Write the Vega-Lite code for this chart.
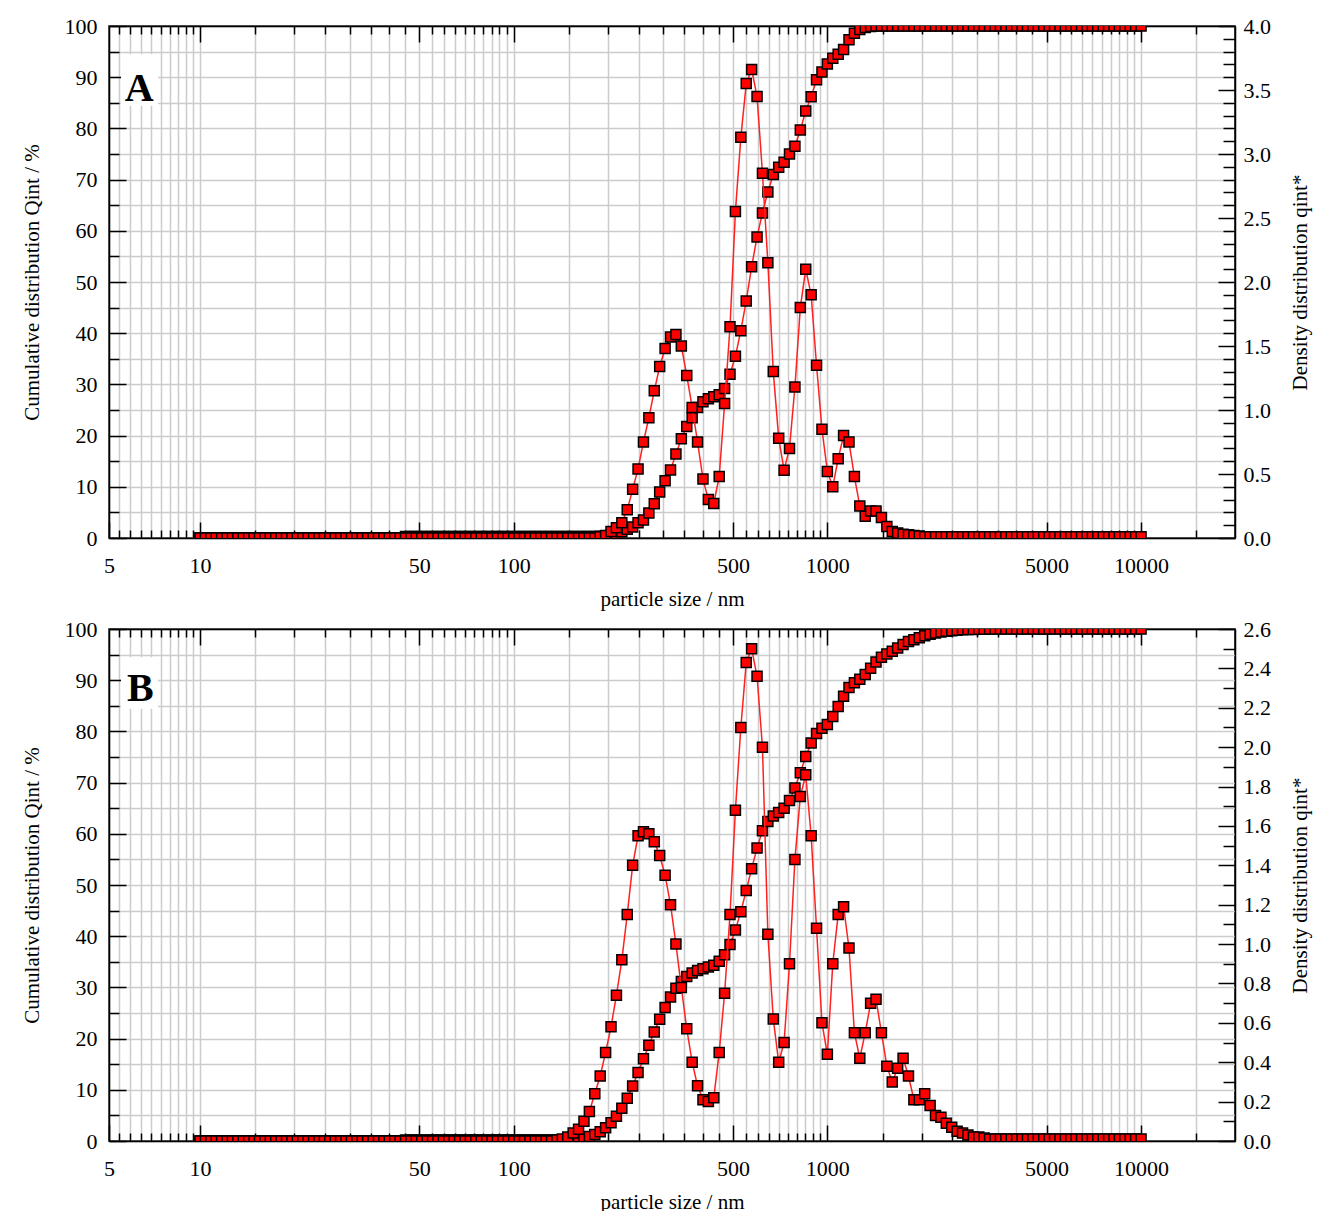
{
"$schema": "https://vega.github.io/schema/vega-lite/v6.json",
"background": "white",
"padding": {"left": 20, "top": 14, "right": 4, "bottom": 2},
"spacing": 7,
"config": {
  "font": "Liberation Serif",
  "view": {"stroke": "black", "strokeWidth": 1.5},
  "axis": {"labelFont": "Liberation Serif", "titleFont": "Liberation Serif", "labelFontSize": 22, "titleFontSize": 21, "titleFontWeight": "normal", "labelColor": "black", "titleColor": "black", "domainColor": "black", "domainWidth": 1.5, "tickColor": "black", "tickWidth": 1.5, "gridColor": "#cccccc", "gridWidth": 1.5, "labelFlush": false, "labelOverlap": false}
},
"datasets": {
"A": [
{"x":10,"c":0,"d":0},{"x":10.405,"c":0,"d":0},{"x":10.826,"c":0,"d":0},{"x":11.265,"c":0,"d":0},{"x":11.721,"c":0,"d":0},{"x":12.196,"c":0,"d":0},{"x":12.689,"c":0,"d":0},{"x":13.203,"c":0,"d":0},{"x":13.738,"c":0,"d":0},{"x":14.294,"c":0,"d":0},
{"x":14.873,"c":0,"d":0},{"x":15.475,"c":0,"d":0},{"x":16.102,"c":0,"d":0},{"x":16.754,"c":0,"d":0},{"x":17.432,"c":0,"d":0},{"x":18.138,"c":0,"d":0},{"x":18.873,"c":0,"d":0},{"x":19.637,"c":0,"d":0},{"x":20.432,"c":0,"d":0},{"x":21.26,"c":0,"d":0},
{"x":22.121,"c":0,"d":0},{"x":23.016,"c":0,"d":0},{"x":23.948,"c":0,"d":0},{"x":24.918,"c":0,"d":0},{"x":25.927,"c":0,"d":0},{"x":26.977,"c":0,"d":0},{"x":28.069,"c":0,"d":0},{"x":29.206,"c":0,"d":0},{"x":30.389,"c":0,"d":0},{"x":31.623,"c":0,"d":0},
{"x":32.904,"c":0,"d":0},{"x":34.236,"c":0,"d":0},{"x":35.623,"c":0,"d":0},{"x":37.065,"c":0,"d":0},{"x":38.566,"c":0,"d":0},{"x":40.128,"c":0,"d":0},{"x":41.753,"c":0,"d":0},{"x":43.444,"c":0,"d":0},{"x":45.204,"c":0.3,"d":0},{"x":47.034,"c":0.3,"d":0},
{"x":48.939,"c":0.3,"d":0},{"x":50.921,"c":0.3,"d":0},{"x":52.983,"c":0.3,"d":0},{"x":55.129,"c":0.3,"d":0},{"x":57.361,"c":0.3,"d":0},{"x":59.684,"c":0.3,"d":0},{"x":62.101,"c":0.3,"d":0},{"x":64.616,"c":0.3,"d":0},{"x":67.233,"c":0.3,"d":0},{"x":69.956,"c":0.3,"d":0},
{"x":72.789,"c":0.3,"d":0},{"x":75.737,"c":0.3,"d":0},{"x":78.804,"c":0.3,"d":0},{"x":81.995,"c":0.3,"d":0},{"x":85.316,"c":0.3,"d":0},{"x":88.771,"c":0.3,"d":0},{"x":92.366,"c":0.3,"d":0},{"x":96.106,"c":0.3,"d":0},{"x":100,"c":0.3,"d":0},{"x":104.05,"c":0.3,"d":0},
{"x":108.26,"c":0.3,"d":0},{"x":112.65,"c":0.3,"d":0},{"x":117.21,"c":0.3,"d":0},{"x":121.96,"c":0.3,"d":0},{"x":126.89,"c":0.3,"d":0},{"x":132.03,"c":0.3,"d":0},{"x":137.38,"c":0.3,"d":0},{"x":142.94,"c":0.3,"d":0},{"x":148.73,"c":0.3,"d":0},{"x":154.75,"c":0.3,"d":0},
{"x":161.02,"c":0.3,"d":0},{"x":167.54,"c":0.3,"d":0},{"x":174.32,"c":0.3,"d":0},{"x":181.38,"c":0.3,"d":0},{"x":188.73,"c":0.35,"d":0.01},{"x":196.37,"c":0.45,"d":0.02},{"x":204.32,"c":0.6,"d":0.05},{"x":212.6,"c":0.8,"d":0.08},{"x":221.21,"c":1.2,"d":0.12},{"x":230.16,"c":1.7,"d":0.22},
{"x":239.48,"c":2.15,"d":0.38},{"x":249.18,"c":3.0,"d":0.54},{"x":259.27,"c":3.5,"d":0.75},{"x":269.77,"c":4.9,"d":0.94},{"x":280.69,"c":6.7,"d":1.15},{"x":292.06,"c":9.0,"d":1.34},{"x":303.89,"c":11.2,"d":1.48},{"x":316.23,"c":13.3,"d":1.57},{"x":329.04,"c":16.4,"d":1.59},{"x":342.36,"c":19.4,"d":1.5},
{"x":356.23,"c":21.8,"d":1.27},{"x":370.65,"c":23.5,"d":1.02},{"x":385.66,"c":25.5,"d":0.75},{"x":401.28,"c":26.6,"d":0.46},{"x":417.53,"c":27.2,"d":0.3},{"x":434.44,"c":27.6,"d":0.27},{"x":452.04,"c":28.0,"d":0.48},{"x":470.34,"c":29.2,"d":1.05},{"x":489.39,"c":32.0,"d":1.65},{"x":509.21,"c":35.5,"d":2.55},
{"x":529.83,"c":40.5,"d":3.13},{"x":551.29,"c":46.3,"d":3.55},{"x":573.61,"c":53.0,"d":3.66},{"x":596.84,"c":58.8,"d":3.45},{"x":621.01,"c":63.5,"d":2.85},{"x":646.16,"c":67.6,"d":2.15},{"x":672.33,"c":71.0,"d":1.3},{"x":699.56,"c":72.4,"d":0.78},{"x":727.89,"c":73.4,"d":0.53},{"x":757.37,"c":75.0,"d":0.7},
{"x":788.04,"c":76.5,"d":1.18},{"x":819.95,"c":79.7,"d":1.8},{"x":853.16,"c":83.4,"d":2.1},{"x":887.71,"c":86.2,"d":1.9},{"x":923.66,"c":89.5,"d":1.35},{"x":961.06,"c":91.0,"d":0.85},{"x":1000,"c":92.6,"d":0.52},{"x":1040.5,"c":93.7,"d":0.4},{"x":1082.6,"c":94.5,"d":0.62},{"x":1126.5,"c":95.4,"d":0.8},
{"x":1172.1,"c":97.3,"d":0.75},{"x":1219.6,"c":98.6,"d":0.48},{"x":1268.9,"c":99.3,"d":0.25},{"x":1320.3,"c":99.7,"d":0.17},{"x":1373.8,"c":99.9,"d":0.21},{"x":1429.4,"c":100,"d":0.21},{"x":1487.3,"c":100,"d":0.16},{"x":1547.5,"c":100,"d":0.09},{"x":1610.2,"c":100,"d":0.05},{"x":1675.4,"c":100,"d":0.04},
{"x":1743.2,"c":100,"d":0.03},{"x":1813.8,"c":100,"d":0.025},{"x":1887.3,"c":100,"d":0.02},{"x":1963.7,"c":100,"d":0.015},{"x":2043.2,"c":100,"d":0.01},{"x":2126,"c":100,"d":0.01},{"x":2212.1,"c":100,"d":0.01},{"x":2301.6,"c":100,"d":0.01},{"x":2394.8,"c":100,"d":0.01},{"x":2491.8,"c":100,"d":0.01},
{"x":2592.7,"c":100,"d":0.01},{"x":2697.7,"c":100,"d":0.01},{"x":2806.9,"c":100,"d":0.01},{"x":2920.6,"c":100,"d":0.01},{"x":3038.9,"c":100,"d":0.01},{"x":3162.3,"c":100,"d":0.01},{"x":3290.4,"c":100,"d":0.01},{"x":3423.6,"c":100,"d":0.01},{"x":3562.3,"c":100,"d":0.01},{"x":3706.5,"c":100,"d":0.01},
{"x":3856.6,"c":100,"d":0.01},{"x":4012.8,"c":100,"d":0.01},{"x":4175.3,"c":100,"d":0.01},{"x":4344.4,"c":100,"d":0.01},{"x":4520.4,"c":100,"d":0.01},{"x":4703.4,"c":100,"d":0.01},{"x":4893.9,"c":100,"d":0.01},{"x":5092.1,"c":100,"d":0.01},{"x":5298.3,"c":100,"d":0.01},{"x":5512.9,"c":100,"d":0.01},
{"x":5736.1,"c":100,"d":0.01},{"x":5968.4,"c":100,"d":0.01},{"x":6210.1,"c":100,"d":0.01},{"x":6461.6,"c":100,"d":0.01},{"x":6723.3,"c":100,"d":0.01},{"x":6995.6,"c":100,"d":0.01},{"x":7278.9,"c":100,"d":0.01},{"x":7573.7,"c":100,"d":0.01},{"x":7880.4,"c":100,"d":0.01},{"x":8199.5,"c":100,"d":0.01},
{"x":8531.6,"c":100,"d":0.01},{"x":8877.1,"c":100,"d":0.01},{"x":9236.6,"c":100,"d":0.01},{"x":9610.6,"c":100,"d":0.01},{"x":10000,"c":100,"d":0.01}
],
"B": [
{"x":10,"c":0,"d":0},{"x":10.405,"c":0,"d":0},{"x":10.826,"c":0,"d":0},{"x":11.265,"c":0,"d":0},{"x":11.721,"c":0,"d":0},{"x":12.196,"c":0,"d":0},{"x":12.689,"c":0,"d":0},{"x":13.203,"c":0,"d":0},{"x":13.738,"c":0,"d":0},{"x":14.294,"c":0,"d":0},
{"x":14.873,"c":0,"d":0},{"x":15.475,"c":0,"d":0},{"x":16.102,"c":0,"d":0},{"x":16.754,"c":0,"d":0},{"x":17.432,"c":0,"d":0},{"x":18.138,"c":0,"d":0},{"x":18.873,"c":0,"d":0},{"x":19.637,"c":0,"d":0},{"x":20.432,"c":0,"d":0},{"x":21.26,"c":0,"d":0},
{"x":22.121,"c":0,"d":0},{"x":23.016,"c":0,"d":0},{"x":23.948,"c":0,"d":0},{"x":24.918,"c":0,"d":0},{"x":25.927,"c":0,"d":0},{"x":26.977,"c":0,"d":0},{"x":28.069,"c":0,"d":0},{"x":29.206,"c":0,"d":0},{"x":30.389,"c":0,"d":0},{"x":31.623,"c":0,"d":0},
{"x":32.904,"c":0,"d":0},{"x":34.236,"c":0,"d":0},{"x":35.623,"c":0,"d":0},{"x":37.065,"c":0,"d":0},{"x":38.566,"c":0,"d":0},{"x":40.128,"c":0,"d":0},{"x":41.753,"c":0,"d":0},{"x":43.444,"c":0,"d":0},{"x":45.204,"c":0.2,"d":0},{"x":47.034,"c":0.2,"d":0},
{"x":48.939,"c":0.2,"d":0},{"x":50.921,"c":0.2,"d":0},{"x":52.983,"c":0.2,"d":0},{"x":55.129,"c":0.2,"d":0},{"x":57.361,"c":0.2,"d":0},{"x":59.684,"c":0.2,"d":0},{"x":62.101,"c":0.2,"d":0},{"x":64.616,"c":0.2,"d":0},{"x":67.233,"c":0.2,"d":0},{"x":69.956,"c":0.2,"d":0},
{"x":72.789,"c":0.2,"d":0},{"x":75.737,"c":0.2,"d":0},{"x":78.804,"c":0.2,"d":0},{"x":81.995,"c":0.2,"d":0},{"x":85.316,"c":0.2,"d":0},{"x":88.771,"c":0.2,"d":0},{"x":92.366,"c":0.2,"d":0},{"x":96.106,"c":0.2,"d":0},{"x":100,"c":0.2,"d":0},{"x":104.05,"c":0.2,"d":0},
{"x":108.26,"c":0.2,"d":0},{"x":112.65,"c":0.2,"d":0},{"x":117.21,"c":0.2,"d":0},{"x":121.96,"c":0.2,"d":0},{"x":126.89,"c":0.2,"d":0},{"x":132.03,"c":0.2,"d":0},{"x":137.38,"c":0.21,"d":0.005},{"x":142.94,"c":0.23,"d":0.01},{"x":148.73,"c":0.26,"d":0.02},{"x":154.75,"c":0.33,"d":0.04},
{"x":161.02,"c":0.43,"d":0.06},{"x":167.54,"c":0.6,"d":0.1},{"x":174.32,"c":0.86,"d":0.15},{"x":181.38,"c":1.26,"d":0.24},{"x":188.73,"c":1.83,"d":0.33},{"x":196.37,"c":2.59,"d":0.45},{"x":204.32,"c":3.58,"d":0.58},{"x":212.6,"c":4.84,"d":0.74},{"x":221.21,"c":6.4,"d":0.92},{"x":230.16,"c":8.37,"d":1.15},
{"x":239.48,"c":10.75,"d":1.4},{"x":249.18,"c":13.39,"d":1.55},{"x":259.27,"c":16.06,"d":1.57},{"x":269.77,"c":18.72,"d":1.56},{"x":280.69,"c":21.31,"d":1.52},{"x":292.06,"c":23.78,"d":1.45},{"x":303.89,"c":26.08,"d":1.35},{"x":316.23,"c":28.12,"d":1.2},{"x":329.04,"c":29.82,"d":1.0},{"x":342.36,"c":31.15,"d":0.78},
{"x":356.23,"c":32.12,"d":0.57},{"x":370.65,"c":32.8,"d":0.4},{"x":385.66,"c":33.28,"d":0.28},{"x":401.28,"c":33.64,"d":0.21},{"x":417.53,"c":33.98,"d":0.2},{"x":434.44,"c":34.35,"d":0.22},{"x":452.04,"c":35.12,"d":0.45},{"x":470.34,"c":36.4,"d":0.75},{"x":489.39,"c":38.36,"d":1.15},{"x":509.21,"c":41.22,"d":1.68},
{"x":529.83,"c":44.79,"d":2.1},{"x":551.29,"c":48.93,"d":2.43},{"x":573.61,"c":53.19,"d":2.5},{"x":596.84,"c":57.21,"d":2.36},{"x":621.01,"c":60.62,"d":2.0},{"x":646.16,"c":62.4,"d":1.05},{"x":672.33,"c":63.46,"d":0.62},{"x":699.56,"c":64.14,"d":0.4},{"x":727.89,"c":64.99,"d":0.5},{"x":757.37,"c":66.52,"d":0.9},
{"x":788.04,"c":68.96,"d":1.43},{"x":819.95,"c":71.94,"d":1.75},{"x":853.16,"c":75.11,"d":1.86},{"x":887.71,"c":77.75,"d":1.55},{"x":923.66,"c":79.59,"d":1.08},{"x":961.06,"c":80.61,"d":0.6},{"x":1000,"c":81.36,"d":0.44},{"x":1040.5,"c":82.89,"d":0.9},{"x":1082.6,"c":84.85,"d":1.15},{"x":1126.5,"c":86.88,"d":1.19},
{"x":1172.1,"c":88.55,"d":0.98},{"x":1219.6,"c":89.48,"d":0.55},{"x":1268.9,"c":90.2,"d":0.42},{"x":1320.3,"c":91.13,"d":0.55},{"x":1373.8,"c":92.33,"d":0.7},{"x":1429.4,"c":93.55,"d":0.72},{"x":1487.3,"c":94.49,"d":0.55},{"x":1547.5,"c":95.14,"d":0.38},{"x":1610.2,"c":95.65,"d":0.3},{"x":1675.4,"c":96.28,"d":0.37},
{"x":1743.2,"c":96.99,"d":0.42},{"x":1813.8,"c":97.56,"d":0.33},{"x":1887.3,"c":97.91,"d":0.21},{"x":1963.7,"c":98.27,"d":0.21},{"x":2043.2,"c":98.68,"d":0.24},{"x":2126,"c":98.98,"d":0.18},{"x":2212.1,"c":99.2,"d":0.13},{"x":2301.6,"c":99.41,"d":0.12},{"x":2394.8,"c":99.56,"d":0.09},{"x":2491.8,"c":99.68,"d":0.07},
{"x":2592.7,"c":99.76,"d":0.05},{"x":2697.7,"c":99.83,"d":0.04},{"x":2806.9,"c":99.88,"d":0.03},{"x":2920.6,"c":99.92,"d":0.02},{"x":3038.9,"c":99.95,"d":0.02},{"x":3162.3,"c":99.97,"d":0.015},{"x":3290.4,"c":100,"d":0.01},{"x":3423.6,"c":100,"d":0.01},{"x":3562.3,"c":100,"d":0.01},{"x":3706.5,"c":100,"d":0.01},
{"x":3856.6,"c":100,"d":0.01},{"x":4012.8,"c":100,"d":0.01},{"x":4175.3,"c":100,"d":0.01},{"x":4344.4,"c":100,"d":0.01},{"x":4520.4,"c":100,"d":0.01},{"x":4703.4,"c":100,"d":0.01},{"x":4893.9,"c":100,"d":0.01},{"x":5092.1,"c":100,"d":0.01},{"x":5298.3,"c":100,"d":0.01},{"x":5512.9,"c":100,"d":0.01},
{"x":5736.1,"c":100,"d":0.01},{"x":5968.4,"c":100,"d":0.01},{"x":6210.1,"c":100,"d":0.01},{"x":6461.6,"c":100,"d":0.01},{"x":6723.3,"c":100,"d":0.01},{"x":6995.6,"c":100,"d":0.01},{"x":7278.9,"c":100,"d":0.01},{"x":7573.7,"c":100,"d":0.01},{"x":7880.4,"c":100,"d":0.01},{"x":8199.5,"c":100,"d":0.01},
{"x":8531.6,"c":100,"d":0.01},{"x":8877.1,"c":100,"d":0.01},{"x":9236.6,"c":100,"d":0.01},{"x":9610.6,"c":100,"d":0.01},{"x":10000,"c":100,"d":0.01}
]
},
"vconcat": [
{
  "width": 1126, "height": 512,
  "data": {"name": "A"},
  "layer": [
    {
      "encoding": {
        "x": {"field": "x", "type": "quantitative", "scale": {"type": "log", "domain": [5.128, 19930], "nice": false},
          "axis": {"orient": "bottom", "title": "particle size / nm", "titlePadding": 4, "grid": true, "format": "d",
            "values": [5.128,5.5,6,6.5,7,7.5,8,8.5,9,9.5,10,15,20,25,30,35,40,45,50,55,60,65,70,75,80,85,90,95,100,150,200,250,300,350,400,450,500,550,600,650,700,750,800,850,900,950,1000,1500,2000,2500,3000,3500,4000,4500,5000,5500,6000,6500,7000,7500,8000,8500,9000,9500,10000,15000],
            "labelExpr": "(datum.value < 5.2 || indexof([10,50,100,500,1000,5000,10000], datum.value) >= 0) ? format(datum.value, 'd') : ''",
            "tickSize": {"condition": {"test": "datum.value < 5.2 || indexof([10,50,100,500,1000,5000,10000], datum.value) >= 0", "value": -16}, "value": -8},
            "labelPadding": 33}},
        "y": {"field": "c", "type": "quantitative", "scale": {"domain": [0, 100], "nice": false},
          "axis": {"orient": "left", "title": "Cumulative distribution Qint / %", "titlePadding": 22, "grid": true, "format": "d",
            "values": [0,5,10,15,20,25,30,35,40,45,50,55,60,65,70,75,80,85,90,95,100],
            "labelExpr": "datum.value % 10 == 0 ? datum.label : ''",
            "tickSize": {"condition": {"test": "datum.value % 10 == 0", "value": -17}, "value": -10},
            "labelPadding": 29}}
      },
      "layer": [
        {"mark": {"type": "line", "color": "#ff2020", "strokeWidth": 1.5, "clip": true}},
        {"mark": {"type": "point", "shape": "square", "filled": true, "fill": "#ff0000", "stroke": "black", "strokeWidth": 1.5, "size": 100, "opacity": 1, "clip": true}}
      ]
    },
    {
      "encoding": {
        "x": {"field": "x", "type": "quantitative", "scale": {"type": "log", "domain": [5.128, 19930], "nice": false},
          "axis": {"orient": "top", "title": null, "grid": false, "labels": false,
            "values": [5.5,6,6.5,7,7.5,8,8.5,9,9.5,10,15,20,25,30,35,40,45,50,55,60,65,70,75,80,85,90,95,100,150,200,250,300,350,400,450,500,550,600,650,700,750,800,850,900,950,1000,1500,2000,2500,3000,3500,4000,4500,5000,5500,6000,6500,7000,7500,8000,8500,9000,9500,10000,15000],
            "tickSize": {"condition": {"test": "indexof([10,50,100,500,1000,5000,10000], datum.value) >= 0", "value": -16}, "value": -8}}},
        "y": {"field": "d", "type": "quantitative", "scale": {"domain": [0, 4], "nice": false},
          "axis": {"orient": "right", "title": "Density distribution qint*", "titleAngle": -90, "titlePadding": 40, "grid": false,
            "values": [0,0.1,0.2,0.3,0.4,0.5,0.6,0.7,0.8,0.9,1,1.1,1.2,1.3,1.4,1.5,1.6,1.7,1.8,1.9,2,2.1,2.2,2.3,2.4,2.5,2.6,2.7,2.8,2.9,3,3.1,3.2,3.3,3.4,3.5,3.6,3.7,3.8,3.9,4],
            "labelExpr": "abs(datum.value*2 - round(datum.value*2)) < 0.001 ? format(datum.value, '.1f') : ''",
            "tickSize": {"condition": {"test": "abs(datum.value*2 - round(datum.value*2)) < 0.001", "value": -17}, "value": -12},
            "labelPadding": 25}}
      },
      "layer": [
        {"mark": {"type": "line", "color": "#ff2020", "strokeWidth": 1.5, "clip": true}},
        {"mark": {"type": "point", "shape": "square", "filled": true, "fill": "#ff0000", "stroke": "black", "strokeWidth": 1.5, "size": 100, "opacity": 1, "clip": true}}
      ]
    },
    {
      "data": {"values": [{"panel": "A"}]},
      "encoding": {
        "x": {"datum": 5.6, "type": "quantitative", "scale": {"type": "log", "domain": [5.128, 19930], "nice": false}, "axis": null},
        "y": {"datum": 84.4, "type": "quantitative", "scale": {"domain": [0, 100], "nice": false}, "axis": null}
      },
      "layer": [
        {"mark": {"type": "rect", "fill": "white"}, "encoding": {"x2": {"datum": 7.35}, "y2": {"datum": 94.5}}},
        {"mark": {"type": "text", "font": "Liberation Serif", "fontSize": 40, "fontWeight": "bold", "align": "center", "baseline": "middle", "color": "black"},
         "encoding": {"x": {"datum": 6.4, "type": "quantitative"}, "y": {"datum": 87.7, "type": "quantitative"}, "text": {"field": "panel"}}}
      ]
    }
  ],
  "resolve": {"scale": {"y": "independent"}, "axis": {"x": "independent"}}
},
{
  "width": 1126, "height": 512,
  "data": {"name": "B"},
  "layer": [
    {
      "encoding": {
        "x": {"field": "x", "type": "quantitative", "scale": {"type": "log", "domain": [5.128, 19930], "nice": false},
          "axis": {"orient": "bottom", "title": "particle size / nm", "titlePadding": 4, "grid": true, "format": "d",
            "values": [5.128,5.5,6,6.5,7,7.5,8,8.5,9,9.5,10,15,20,25,30,35,40,45,50,55,60,65,70,75,80,85,90,95,100,150,200,250,300,350,400,450,500,550,600,650,700,750,800,850,900,950,1000,1500,2000,2500,3000,3500,4000,4500,5000,5500,6000,6500,7000,7500,8000,8500,9000,9500,10000,15000],
            "labelExpr": "(datum.value < 5.2 || indexof([10,50,100,500,1000,5000,10000], datum.value) >= 0) ? format(datum.value, 'd') : ''",
            "tickSize": {"condition": {"test": "datum.value < 5.2 || indexof([10,50,100,500,1000,5000,10000], datum.value) >= 0", "value": -16}, "value": -8},
            "labelPadding": 33}},
        "y": {"field": "c", "type": "quantitative", "scale": {"domain": [0, 100], "nice": false},
          "axis": {"orient": "left", "title": "Cumulative distribution Qint / %", "titlePadding": 22, "grid": true, "format": "d",
            "values": [0,5,10,15,20,25,30,35,40,45,50,55,60,65,70,75,80,85,90,95,100],
            "labelExpr": "datum.value % 10 == 0 ? datum.label : ''",
            "tickSize": {"condition": {"test": "datum.value % 10 == 0", "value": -17}, "value": -10},
            "labelPadding": 29}}
      },
      "layer": [
        {"mark": {"type": "line", "color": "#ff2020", "strokeWidth": 1.5, "clip": true}},
        {"mark": {"type": "point", "shape": "square", "filled": true, "fill": "#ff0000", "stroke": "black", "strokeWidth": 1.5, "size": 100, "opacity": 1, "clip": true}}
      ]
    },
    {
      "encoding": {
        "x": {"field": "x", "type": "quantitative", "scale": {"type": "log", "domain": [5.128, 19930], "nice": false},
          "axis": {"orient": "top", "title": null, "grid": false, "labels": false,
            "values": [5.5,6,6.5,7,7.5,8,8.5,9,9.5,10,15,20,25,30,35,40,45,50,55,60,65,70,75,80,85,90,95,100,150,200,250,300,350,400,450,500,550,600,650,700,750,800,850,900,950,1000,1500,2000,2500,3000,3500,4000,4500,5000,5500,6000,6500,7000,7500,8000,8500,9000,9500,10000,15000],
            "tickSize": {"condition": {"test": "indexof([10,50,100,500,1000,5000,10000], datum.value) >= 0", "value": -16}, "value": -8}}},
        "y": {"field": "d", "type": "quantitative", "scale": {"domain": [0, 2.6], "nice": false},
          "axis": {"orient": "right", "title": "Density distribution qint*", "titleAngle": -90, "titlePadding": 40, "grid": false,
            "values": [0,0.1,0.2,0.3,0.4,0.5,0.6,0.7,0.8,0.9,1,1.1,1.2,1.3,1.4,1.5,1.6,1.7,1.8,1.9,2,2.1,2.2,2.3,2.4,2.5,2.6],
            "labelExpr": "abs(datum.value*5 - round(datum.value*5)) < 0.001 ? format(datum.value, '.1f') : ''",
            "tickSize": {"condition": {"test": "abs(datum.value*5 - round(datum.value*5)) < 0.001", "value": -17}, "value": -12},
            "labelPadding": 25}}
      },
      "layer": [
        {"mark": {"type": "line", "color": "#ff2020", "strokeWidth": 1.5, "clip": true}},
        {"mark": {"type": "point", "shape": "square", "filled": true, "fill": "#ff0000", "stroke": "black", "strokeWidth": 1.5, "size": 100, "opacity": 1, "clip": true}}
      ]
    },
    {
      "data": {"values": [{"panel": "B"}]},
      "encoding": {
        "x": {"datum": 5.6, "type": "quantitative", "scale": {"type": "log", "domain": [5.128, 19930], "nice": false}, "axis": null},
        "y": {"datum": 84.4, "type": "quantitative", "scale": {"domain": [0, 100], "nice": false}, "axis": null}
      },
      "layer": [
        {"mark": {"type": "rect", "fill": "white"}, "encoding": {"x2": {"datum": 7.35}, "y2": {"datum": 94.5}}},
        {"mark": {"type": "text", "font": "Liberation Serif", "fontSize": 40, "fontWeight": "bold", "align": "center", "baseline": "middle", "color": "black"},
         "encoding": {"x": {"datum": 6.45, "type": "quantitative"}, "y": {"datum": 88.3, "type": "quantitative"}, "text": {"field": "panel"}}}
      ]
    }
  ],
  "resolve": {"scale": {"y": "independent"}, "axis": {"x": "independent"}}
}
]
}
